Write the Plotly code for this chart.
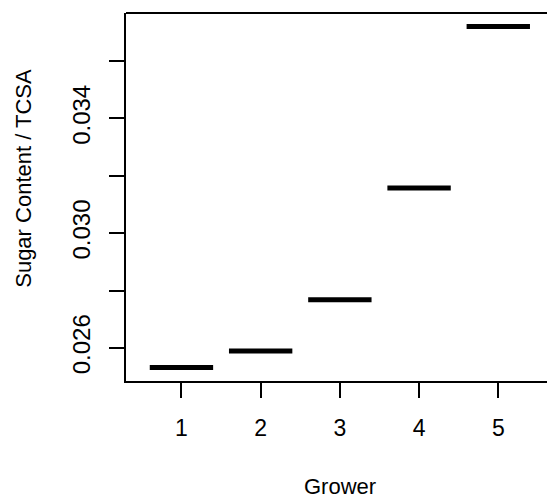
import plotly.graph_objects as go

growers = [1, 2, 3, 4, 5]
sugar_tcsa = [0.02532, 0.02589, 0.02768, 0.03157, 0.0372]
ytick_vals = [0.026, 0.028, 0.030, 0.032, 0.034, 0.036]
ytick_text = ["0.026", "", "0.030", "", "0.034", ""]

W, H = 547, 499
L, R, T, B = 126, 0, 12.5, 118
FONT = "Liberation Sans, Arial, Helvetica, sans-serif"
half = 0.4

fig = go.Figure()
for g, v in zip(growers, sugar_tcsa):
    fig.add_trace(go.Scatter(
        x=[g - half, g + half], y=[v, v], mode="lines",
        line=dict(color="black", width=5), showlegend=False, hoverinfo="skip"))

plot_h = H - T - B
fig.update_layout(
    width=W, height=H,
    margin=dict(l=L, r=R, t=T, b=B, autoexpand=False),
    paper_bgcolor="white", plot_bgcolor="white",
    font=dict(family=FONT, size=22, color="black"),
    showlegend=False,
    xaxis=dict(range=[0.3, 5.615], tickvals=growers, ticktext=[str(g) for g in growers],
               showgrid=False, zeroline=False, showline=True, linecolor="black", linewidth=2,
               ticks="outside", ticklen=15, tickwidth=2, tickcolor="black",
               ticklabelstandoff=10, tickfont=dict(size=23)),
    yaxis=dict(range=[0.024845, 0.037675], tickvals=ytick_vals, ticktext=ytick_text,
               showgrid=False, zeroline=False, showline=True, linecolor="black", linewidth=2,
               ticks="outside", ticklen=15, tickwidth=2, tickcolor="black",
               tickangle=-90, ticklabelstandoff=9, tickfont=dict(size=24)),
    shapes=[dict(type="line", xref="paper", yref="paper", x0=0, x1=1, y0=1, y1=1,
                 line=dict(color="black", width=2))],
    annotations=[
        dict(text="Grower", xref="x", yref="paper", x=3, y=-(487 - (H - B)) / plot_h,
             showarrow=False, xanchor="center", yanchor="middle", font=dict(size=22)),
        dict(text="Sugar Content / TCSA", xref="paper", yref="paper",
             x=-(L - 24) / (W - L - R), y=1 - (178.5 - T) / plot_h, textangle=-90,
             showarrow=False, xanchor="center", yanchor="middle", font=dict(size=22)),
    ],
)
fig.write_html("out.html", config={"displayModeBar": False},
               post_script="document.body.style.margin='0';document.body.style.overflow='hidden';")
